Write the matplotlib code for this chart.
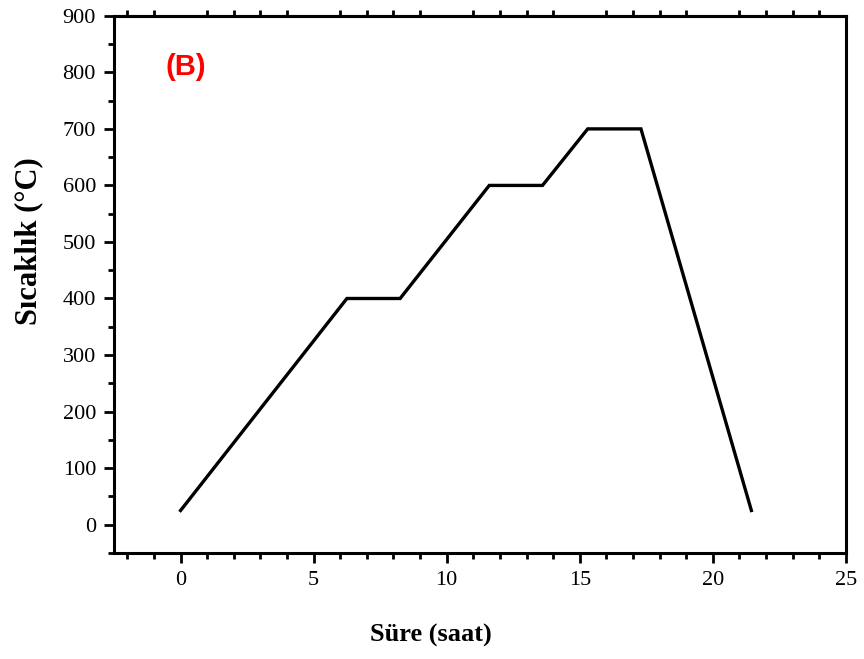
import matplotlib
matplotlib.use('Agg')
import matplotlib.pyplot as plt
from matplotlib.ticker import MultipleLocator

# heating program (time in hours, temperature in C)
time_h = [0, 6.25, 8.25, 11.6, 13.6, 15.3, 17.3, 21.45]
temp_c = [25, 400, 400, 600, 600, 700, 700, 25]
panel_label = '(B)'

plt.rcParams['font.family'] = ['Liberation Serif', 'DejaVu Serif']

fig = plt.figure(figsize=(8.64, 6.59), dpi=100)
ax = fig.add_axes([0.132, 0.161, 0.847, 0.815])

ax.plot(time_h, temp_c, color='black', linewidth=2.4, solid_joinstyle='miter')

ax.set_xlim(-2.5, 25)
ax.set_ylim(-50, 900)
ax.xaxis.set_major_locator(MultipleLocator(5))
ax.xaxis.set_minor_locator(MultipleLocator(1))
ax.yaxis.set_major_locator(MultipleLocator(100))
ax.yaxis.set_minor_locator(MultipleLocator(50))

for s in ax.spines.values():
    s.set_linewidth(2.2)

ax.tick_params(which='both', direction='out', width=2, top=False, right=False)
ax.tick_params(which='major', length=7, labelsize=16, pad=6)
ax.tick_params(which='minor', length=4)

# top axis: minor ticks only
sec = ax.secondary_xaxis('top')
sec.xaxis.set_major_locator(MultipleLocator(5))
sec.xaxis.set_minor_locator(MultipleLocator(1))
sec.tick_params(which='major', length=0, labeltop=False)
sec.tick_params(which='minor', direction='out', length=4, width=2)
sec.spines['top'].set_linewidth(2.2)

ax.set_xlabel('Süre (saat)', fontsize=19, fontweight='bold')
ax.set_ylabel('Sıcaklık (°C)', fontsize=22, fontweight='bold')
ax.xaxis.set_label_coords(0.433, -0.133)
ax.yaxis.set_label_coords(-0.097, 0.581)

ax.text(-0.55, 810, panel_label, color='red', fontsize=21, fontweight='bold',
        family=['Liberation Sans', 'DejaVu Sans'], va='center', ha='left')

fig.savefig('out.png', dpi=100)
